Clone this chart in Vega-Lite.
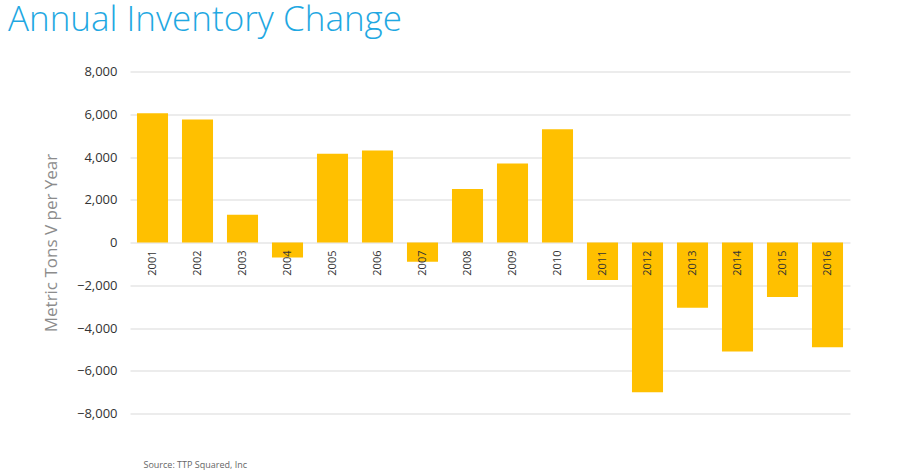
{
  "$schema": "https://vega.github.io/schema/vega-lite/v6.json",
  "width": 720,
  "height": 342,
  "autosize": {"type": "none"},
  "padding": {"left": 130, "top": 71.5, "right": 52, "bottom": 60.5},
  "background": "white",
  "title": {
    "text": "Annual Inventory Change",
    "anchor": "start",
    "frame": "group",
    "dx": -122,
    "offset": 0,
    "baseline": "alphabetic",
    "font": "Open Sans",
    "fontWeight": 300,
    "fontSize": 35,
    "color": "#1fa8e2"
  },
  "config": {
    "view": {"stroke": null},
    "font": "Open Sans"
  },
  "data": {
    "values": [
      {"year": "2001", "change": 6050},
      {"year": "2002", "change": 5750},
      {"year": "2003", "change": 1300},
      {"year": "2004", "change": -700},
      {"year": "2005", "change": 4150},
      {"year": "2006", "change": 4300},
      {"year": "2007", "change": -900},
      {"year": "2008", "change": 2500},
      {"year": "2009", "change": 3700},
      {"year": "2010", "change": 5300},
      {"year": "2011", "change": -1750},
      {"year": "2012", "change": -7000},
      {"year": "2013", "change": -3050},
      {"year": "2014", "change": -5100},
      {"year": "2015", "change": -2550},
      {"year": "2016", "change": -4900}
    ]
  },
  "encoding": {
    "x": {
      "field": "year",
      "type": "nominal",
      "sort": null,
      "scale": {"paddingInner": 0.31, "paddingOuter": 0.155},
      "axis": {
        "orient": "bottom",
        "labels": false,
        "ticks": false,
        "domain": false,
        "title": "Source: TTP Squared, Inc",
        "titleAnchor": "start",
        "titleX": 13,
        "titleFontSize": 9,
        "titleFontWeight": "normal",
        "titleColor": "#666666",
        "titlePadding": 47
      }
    }
  },
  "layer": [
    {
      "mark": {"type": "bar", "color": "#ffc000"},
      "encoding": {
        "y": {
          "field": "change",
          "type": "quantitative",
          "scale": {"domain": [-8000, 8000], "nice": false},
          "axis": {
            "values": [-8000, -6000, -4000, -2000, 0, 2000, 4000, 6000, 8000],
            "format": ",d",
            "title": "Metric Tons V per Year",
            "titleFontSize": 17,
            "titleFontWeight": "normal",
            "titleColor": "#8c8c8c",
            "titlePadding": 16,
            "labelFontSize": 13,
            "labelColor": "#333333",
            "labelPadding": 13,
            "ticks": false,
            "domain": false,
            "gridColor": "#d9d9d9",
            "gridWidth": 1
          }
        }
      }
    },
    {
      "mark": {
        "type": "text",
        "angle": 270,
        "align": "right",
        "baseline": "middle",
        "dx": -8,
        "fontSize": 11,
        "color": "#333333"
      },
      "encoding": {
        "y": {"datum": 0, "type": "quantitative"},
        "text": {"field": "year"}
      }
    }
  ]
}
